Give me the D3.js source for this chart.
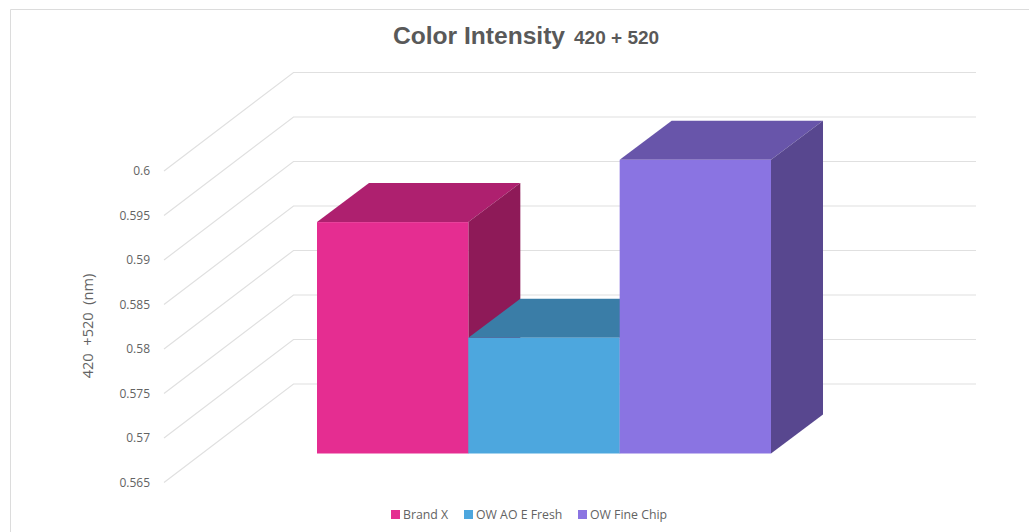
<!DOCTYPE html>
<html>
<head>
  <title>Color Intensity 420 + 520</title>
  <script src="https://d3js.org/d3.v7.min.js"></script>
  <style>
    html, body { margin: 0; padding: 0; background: #fff; }
    svg { display: block; }
    text { font-family: "Open Sans", sans-serif; fill: #636363; }
  </style>
</head>
<body>
  <div id="chart"></div>

  <script>
    var categories = ["Brand X", "OW AO E Fresh", "OW Fine Chip"];
    var intensity = [0.591, 0.578, 0.598];
    var yTicks = [0.565, 0.57, 0.575, 0.58, 0.585, 0.59, 0.595, 0.6];
    var frontColors = ["#e52d91", "#4da7de", "#8a74e2"];
    var topColors = ["#ae206f", "#3a7da7", "#6855aa"];
    var sideColors = ["#8e1a58", "#2f6a8e", "#58478f"];

    var width = 1029, height = 532;

    // oblique projection: wall is pushed back by wall.dx / wall.dy,
    // bars start part way into the floor and have their own depth
    var wall = {dx: 129.5, dy: -98.5};
    var barStart = {dx: 38, dy: -29};
    var barDepth = {dx: 52, dy: -39};

    var svg = d3.select("#chart").append("svg")
      .attr("width", width)
      .attr("height", height);

    // outer chart frame, cut off by the window on the right and bottom
    svg.append("path")
      .attr("d", "M10.5," + height + "V9.5H" + width)
      .attr("fill", "none")
      .attr("stroke", "#dcdcdc")
      .attr("stroke-width", 1);

    var y = d3.scaleLinear()
      .domain([0.565, 0.6])
      .range([482.5, 171]);

    var x = d3.scaleBand()
      .domain(categories)
      .range([317, 771])
      .padding(0);

    // gridlines run along the floor edge, then across the back wall
    var line = d3.line();
    svg.append("g").selectAll("path")
      .data(yTicks)
      .enter()
      .append("path")
      .attr("d", function(d) {
        return line([
          [164, y(d)],
          [164 + wall.dx, y(d) + wall.dy],
          [976, y(d) + wall.dy]
        ]);
      })
      .attr("fill", "none")
      .attr("stroke", "#e0e0e0")
      .attr("stroke-width", 1.2);

    var yAxis = svg.append("g")
      .attr("transform", "translate(155,0)")
      .call(d3.axisLeft(y)
        .tickValues(yTicks)
        .tickSize(0)
        .tickPadding(5)
        .tickFormat(function(d) { return String(+d.toFixed(3)); }));
    yAxis.select(".domain").remove();
    yAxis.selectAll("text")
      .style("font-family", '"Open Sans", sans-serif')
      .style("font-size", "12px");

    // bars are painted left to right so each one overlaps the previous side face
    var bars = svg.append("g").selectAll("g")
      .data(categories)
      .enter()
      .append("g");

    function poly(points) {
      return line(points) + "Z";
    }

    var baseY = y(0.565) + barStart.dy;
    function topY(i) {
      return y(intensity[i]) + barStart.dy;
    }

    bars.append("path")
      .attr("fill", function(d, i) { return topColors[i]; })
      .attr("d", function(d, i) {
        var x0 = x(d), x1 = x0 + x.bandwidth(), t = topY(i);
        return poly([[x0, t], [x1, t], [x1 + barDepth.dx, t + barDepth.dy], [x0 + barDepth.dx, t + barDepth.dy]]);
      });

    bars.append("path")
      .attr("fill", function(d, i) { return sideColors[i]; })
      .attr("d", function(d, i) {
        var x1 = x(d) + x.bandwidth(), t = topY(i);
        return poly([[x1, t], [x1 + barDepth.dx, t + barDepth.dy], [x1 + barDepth.dx, baseY + barDepth.dy], [x1, baseY]]);
      });

    bars.append("rect")
      .attr("x", function(d) { return x(d); })
      .attr("y", function(d, i) { return topY(i); })
      .attr("width", x.bandwidth())
      .attr("height", function(d, i) { return baseY - topY(i); })
      .attr("fill", function(d, i) { return frontColors[i]; });

    var title = svg.append("text")
      .attr("x", 526)
      .attr("y", 44)
      .attr("text-anchor", "middle")
      .style("fill", "#595959")
      .style("font-family", '"Liberation Sans", Arial, sans-serif')
      .style("font-weight", "bold");
    title.append("tspan").style("font-size", "24.6px").text("Color Intensity");
    title.append("tspan").attr("dx", 9).style("font-size", "19px").text("420 + 520");

    svg.append("text")
      .attr("transform", "translate(93,326) rotate(-90)")
      .attr("text-anchor", "middle")
      .style("font-size", "14.6px")
      .style("white-space", "pre")
      .text("420  +520  (nm)");

    // legend
    var legendX = [391, 464, 578];
    var legend = svg.append("g").selectAll("g")
      .data(categories)
      .enter()
      .append("g")
      .attr("transform", function(d, i) { return "translate(" + legendX[i] + ",510)"; });
    legend.append("rect")
      .attr("width", 9)
      .attr("height", 9)
      .attr("fill", function(d, i) { return frontColors[i]; });
    legend.append("text")
      .attr("x", 12)
      .attr("y", 9)
      .style("font-size", "12.3px")
      .text(function(d) { return d; });
  </script>
</body>
</html>
